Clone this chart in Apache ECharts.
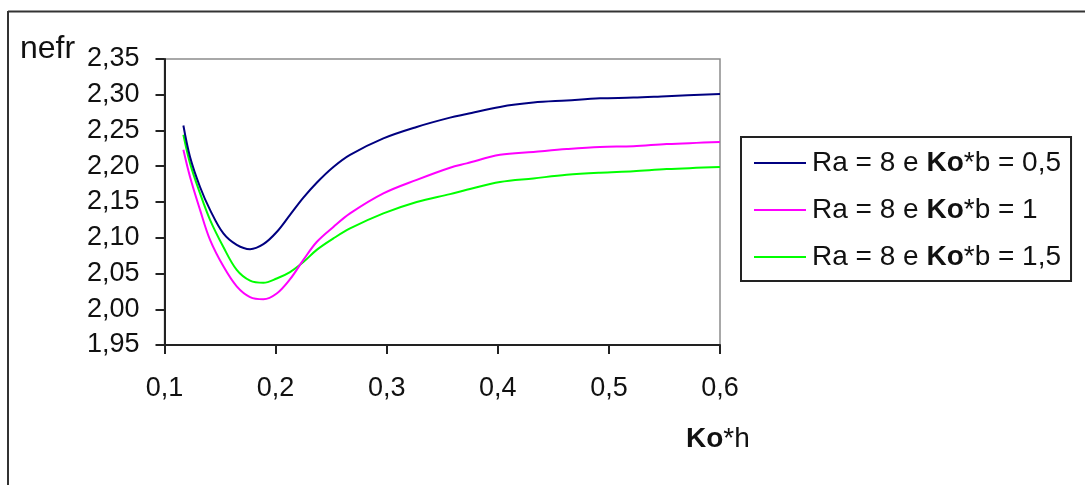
<!DOCTYPE html>
<html>
<head>
<meta charset="utf-8">
<script src="https://cdn.jsdelivr.net/npm/echarts@6/dist/echarts.min.js"></script>
<style>
html,body{margin:0;padding:0;background:#fff;}
#chart{width:1085px;height:485px;}
</style>
</head>
<body>
<div id="chart"></div>
<script>
// Ko*h values (x axis)
var kohValues = [0.117, 0.123, 0.132, 0.141, 0.153, 0.165, 0.177, 0.189, 0.201, 0.213, 0.225, 0.237, 0.252, 0.267, 0.297, 0.327, 0.357, 0.372, 0.402, 0.432, 0.462, 0.492, 0.522, 0.552, 0.6];
// nefr for Ra = 8, Ko*b = 0,5
var nefrKob05 = [2.257, 2.213, 2.171, 2.139, 2.106, 2.090, 2.084, 2.091, 2.108, 2.132, 2.156, 2.177, 2.199, 2.216, 2.239, 2.255, 2.268, 2.273, 2.283, 2.289, 2.292, 2.295, 2.296, 2.298, 2.301];
// nefr for Ra = 8, Ko*b = 1
var nefrKob1 = [2.223, 2.185, 2.139, 2.097, 2.060, 2.032, 2.017, 2.014, 2.022, 2.042, 2.069, 2.094, 2.115, 2.134, 2.162, 2.181, 2.198, 2.204, 2.216, 2.220, 2.224, 2.227, 2.228, 2.231, 2.234];
// nefr for Ra = 8, Ko*b = 1,5
var nefrKob15 = [2.244, 2.204, 2.162, 2.125, 2.087, 2.055, 2.040, 2.037, 2.043, 2.052, 2.066, 2.083, 2.099, 2.113, 2.134, 2.150, 2.161, 2.167, 2.178, 2.183, 2.188, 2.191, 2.193, 2.196, 2.199];
var seriesNames = ['Ra = 8 e Ko*b = 0,5', 'Ra = 8 e Ko*b = 1', 'Ra = 8 e Ko*b = 1,5'];
var seriesKob = ['0,5', '1', '1,5'];
var seriesColors = ['#000080', '#ff00ff', '#00ff00'];
var yAxisTitle = 'nefr';
var xAxisTitle = 'Ko*h';

var FONT = '"Liberation Sans", Arial, sans-serif';
function pairs(xs, ys) { return xs.map(function (x, i) { return [x, ys[i]]; }); }
var allValues = [nefrKob05, nefrKob1, nefrKob15];

var chart = echarts.init(document.getElementById('chart'), null, {renderer: 'canvas'});
var option = {
  backgroundColor: '#fff',
  animation: false,
  grid: {left: 164.5, right: 365, top: 59, bottom: 140, show: true, borderColor: '#8c8c8c', borderWidth: 1.5, backgroundColor: 'transparent'},
  xAxis: {
    type: 'value', min: 0.1, max: 0.6, interval: 0.1,
    axisLine: {show: true, onZero: false, lineStyle: {color: '#222', width: 2}},
    axisTick: {show: true, length: 9, lineStyle: {color: '#222', width: 2}},
    splitLine: {show: false},
    axisLabel: {margin: 30, color: '#111', fontFamily: FONT, fontSize: 27,
      formatter: function (v) { return v.toFixed(1).replace('.', ','); }}
  },
  yAxis: {
    type: 'value', min: 1.95, max: 2.35, interval: 0.05,
    axisLine: {show: true, onZero: false, lineStyle: {color: '#222', width: 2}},
    axisTick: {show: true, length: 9, lineStyle: {color: '#222', width: 2}},
    splitLine: {show: false},
    axisLabel: {margin: 25, color: '#111', fontFamily: FONT, fontSize: 27,
      formatter: function (v) { return v.toFixed(2).replace('.', ','); }}
  },
  legend: {
    orient: 'vertical', left: 741, top: 137,
    padding: [11, 10, 9, 13],
    itemGap: 17, itemWidth: 52, itemHeight: 2,
    icon: 'rect',
    borderColor: '#222', borderWidth: 2, backgroundColor: '#fff',
    data: seriesNames,
    formatter: function (name) {
      var i = seriesNames.indexOf(name);
      return '{r|Ra = 8 e }{b|Ko}{r|*b = ' + seriesKob[i] + '}';
    },
    textStyle: {
      color: '#111', fontFamily: FONT, fontSize: 28, lineHeight: 30, padding: [0, 0, 0, 1],
      rich: {
        r: {fontFamily: FONT, fontSize: 28, color: '#111'},
        b: {fontFamily: FONT, fontSize: 28, fontWeight: 'bold', color: '#111'}
      }
    }
  },
  series: seriesNames.map(function (n, i) {
    return {
      name: n, type: 'line', smooth: 0.35, showSymbol: false, symbol: 'none',
      data: pairs(kohValues, allValues[i]),
      lineStyle: {color: seriesColors[i], width: 2},
      itemStyle: {color: seriesColors[i]},
      z: 3 - i
    };
  }),
  graphic: [
    {type: 'line', shape: {x1: 8, y1: 11.5, x2: 1085, y2: 11.5}, style: {stroke: '#333', lineWidth: 2}},
    {type: 'line', shape: {x1: 8, y1: 11, x2: 8, y2: 485}, style: {stroke: '#333', lineWidth: 2}},
    {type: 'text', left: 20, top: 33, style: {text: yAxisTitle, font: '32px ' + FONT, fill: '#111'}},
    {type: 'text', left: 686, top: 425, style: {
      text: '{b|Ko}{r|*h}', fill: '#111',
      rich: {b: {fontFamily: FONT, fontSize: 28, fontWeight: 'bold', fill: '#111'}, r: {fontFamily: FONT, fontSize: 28, fill: '#111'}}
    }}
  ]
};
chart.setOption(option);
</script>
</body>
</html>
